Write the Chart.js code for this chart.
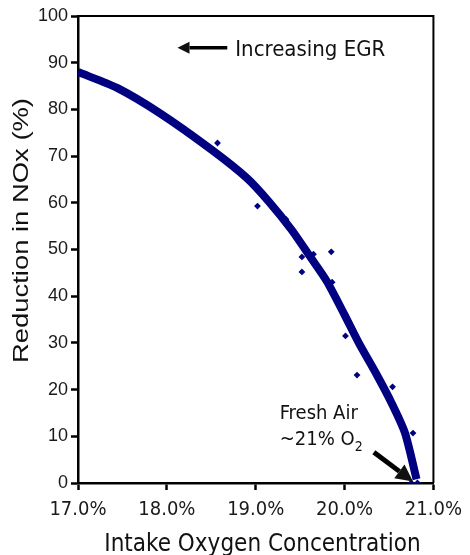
<!DOCTYPE html>
<html lang="en">
<head>
    <meta charset="UTF-8">
    <title>NOx Reduction vs Intake Oxygen</title>
    <script src="https://cdn.jsdelivr.net/npm/chart.js"></script>
    <style>
        html, body { margin: 0; padding: 0; background: #fff; }
        #wrap { width: 470px; height: 555px; }
    </style>
</head>
<body>
<div id="wrap"><canvas id="chartCanvas"></canvas></div>

<script>
    // fitted curve
    const curveO2 = [17.0, 17.44, 17.92, 18.5, 18.9, 19.15, 19.4, 19.6, 19.8, 20.0, 20.16, 20.35, 20.53, 20.68, 20.81];
    const curveNOx = [88, 84.6, 79.2, 71.4, 65.3, 60.2, 54.3, 48.8, 43.2, 36, 30, 23.6, 17.1, 10.7, 0.8];

    // measured points
    const pointO2 = [18.57, 19.02, 19.34, 19.52, 19.65, 19.85, 19.52, 19.86, 20.01, 20.14, 20.54, 20.57, 20.77, 20.75, 20.82];
    const pointNOx = [72.8, 59.3, 56.5, 48.4, 49.0, 49.5, 45.2, 43.0, 31.5, 23.1, 20.6, 15.2, 10.7, 0, 0];

    const xTicks = [17, 18, 19, 20, 21];
    const yTicks = [0, 10, 20, 30, 40, 50, 60, 70, 80, 90, 100];

    const navy = "#000080";
    const condensed = "'DejaVu Sans Condensed', 'DejaVu Sans', sans-serif";
    const arial = "'Liberation Sans', Arial, sans-serif";

    function arrow(ctx, x1, y1, x2, y2, width, head) {
        const ang = Math.atan2(y2 - y1, x2 - x1);
        const bx = x2 - head * Math.cos(ang), by = y2 - head * Math.sin(ang);
        ctx.lineWidth = width;
        ctx.beginPath();
        ctx.moveTo(x1, y1);
        ctx.lineTo(bx, by);
        ctx.stroke();
        ctx.beginPath();
        ctx.moveTo(x2, y2);
        ctx.lineTo(bx + head * 0.5 * Math.sin(ang), by - head * 0.5 * Math.cos(ang));
        ctx.lineTo(bx - head * 0.5 * Math.sin(ang), by + head * 0.5 * Math.cos(ang));
        ctx.closePath();
        ctx.fill();
    }

    const notes = {
        id: "notes",
        afterDraw(chart) {
            const { ctx, chartArea: a, scales: { x, y } } = chart;
            ctx.save();
            // frame top and right
            ctx.strokeStyle = "#000";
            ctx.lineWidth = 2;
            ctx.beginPath();
            ctx.moveTo(a.left, a.top);
            ctx.lineTo(a.right, a.top);
            ctx.lineTo(a.right, a.bottom);
            ctx.stroke();

            ctx.fillStyle = "#111";
            ctx.strokeStyle = "#000";

            // Increasing EGR
            arrow(ctx, x.getPixelForValue(18.68), y.getPixelForValue(93.2),
                x.getPixelForValue(18.12), y.getPixelForValue(93.2), 3.5, 12);
            ctx.font = "22px " + condensed;
            ctx.textAlign = "left";
            ctx.textBaseline = "alphabetic";
            ctx.fillText("Increasing EGR", x.getPixelForValue(18.77), 56);

            // Fresh air
            ctx.font = "20px " + condensed;
            const fx = x.getPixelForValue(19.27);
            ctx.fillText("Fresh Air", fx, 419);
            const line2 = "~21% O";
            ctx.fillText(line2, fx, 445);
            const w2 = ctx.measureText(line2).width;
            ctx.font = "14px " + condensed;
            ctx.fillText("2", fx + w2, 451);
            arrow(ctx, x.getPixelForValue(20.33), y.getPixelForValue(6.6),
                x.getPixelForValue(20.77), y.getPixelForValue(0.3), 5, 17);

            // axis titles
            ctx.fillStyle = "#111";
            ctx.font = "24px " + condensed;
            ctx.textAlign = "center";
            ctx.fillText("Intake Oxygen Concentration", (98 + 427) / 2, 551);

            ctx.font = "22px " + arial;
            const yt = "Reduction in NOx (%)";
            const tw = ctx.measureText(yt).width;
            ctx.translate(28, 230.5);
            ctx.rotate(-Math.PI / 2);
            ctx.scale(265 / tw, 1);
            ctx.textAlign = "center";
            ctx.fillText(yt, 0, 0);
            ctx.restore();
        }
    };

    const ctx = document.getElementById("chartCanvas").getContext("2d");
    new Chart(ctx, {
        type: "scatter",
        data: {
            datasets: [{
                label: "Fit",
                data: curveO2.map((v, i) => ({ x: v, y: curveNOx[i] })),
                showLine: true,
                borderColor: navy,
                borderWidth: 8,
                pointRadius: 0,
                tension: 0.25,
                borderCapStyle: "butt"
            }, {
                label: "Data",
                data: pointO2.map((v, i) => ({ x: v, y: pointNOx[i] })),
                pointStyle: "rectRot",
                pointRadius: 3.4,
                backgroundColor: navy,
                borderColor: navy,
                borderWidth: 0
            }]
        },
        options: {
            responsive: true,
            maintainAspectRatio: false,
            animation: false,
            events: [],
            layout: { padding: { top: 16, right: 34, left: 0, bottom: 0 } },
            plugins: {
                legend: { display: false },
                tooltip: { enabled: false }
            },
            scales: {
                x: {
                    type: "linear",
                    min: 17,
                    max: 21,
                    afterBuildTicks: s => { s.ticks = xTicks.map(v => ({ value: v })); },
                    afterFit: s => { s.height = 72; },
                    ticks: {
                        callback: v => v.toFixed(1) + "%",
                        font: { family: condensed, size: 20 },
                        color: "#1a1a1a",
                        padding: 8,
                        maxRotation: 0
                    },
                    grid: {
                        drawOnChartArea: false,
                        tickLength: 7,
                        tickWidth: 2.5,
                        tickColor: "#000"
                    },
                    border: { color: "#000", width: 2.5 }
                },
                y: {
                    min: 0,
                    max: 100,
                    afterBuildTicks: s => { s.ticks = yTicks.map(v => ({ value: v })); },
                    afterFit: s => { s.width = 78; },
                    ticks: {
                        font: { family: arial, size: 18 },
                        color: "#1a1a1a",
                        padding: 3
                    },
                    grid: {
                        drawOnChartArea: false,
                        tickLength: 7,
                        tickWidth: 2.5,
                        tickColor: "#000"
                    },
                    border: { color: "#000", width: 2.5 }
                }
            }
        },
        plugins: [notes]
    });
</script>
</body>
</html>
